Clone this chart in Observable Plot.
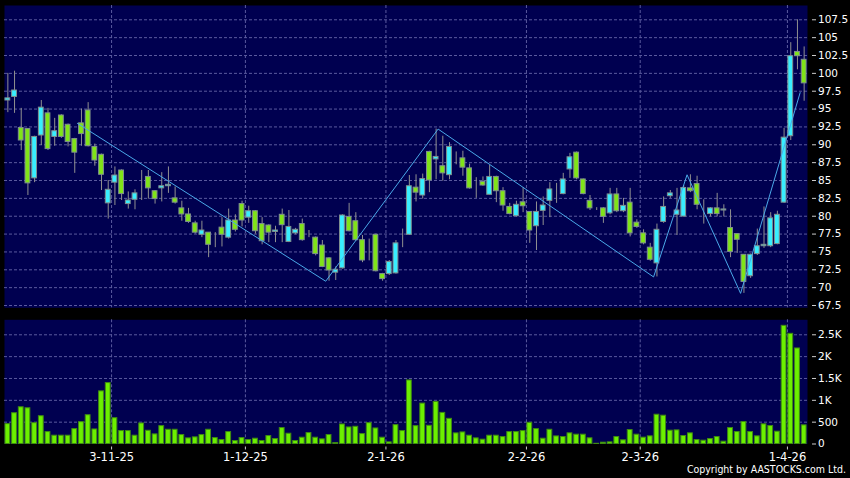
<!DOCTYPE html>
<html><head><meta charset="utf-8">
<script src="https://cdn.jsdelivr.net/npm/d3@7"></script>
<script src="https://cdn.jsdelivr.net/npm/@observablehq/plot@0.6"></script>
<style>
html,body{margin:0;padding:0;background:#000;}
#wrap{position:relative;width:850px;height:478px;background:#000;overflow:hidden;font-family:"DejaVu Sans",sans-serif;}
#price{position:absolute;left:0;top:0;}
#vol{position:absolute;left:0;top:310px;}
#copy{position:absolute;right:4px;top:463px;color:#fff;font-size:10.5px;font-family:"DejaVu Sans Condensed","DejaVu Sans",sans-serif;font-stretch:condensed;white-space:nowrap;}
</style></head><body>
<div id="wrap"><div id="price"></div><div id="vol"></div><div id="copy">Copyright by AASTOCKS.com Ltd.</div></div>
<script>
// ---- data ----
const opens = [96.2,96.7,92.35,92.2,85.3,91.3,94.4,91.1,94.1,92.8,90.8,93.0,94.8,89.7,88.6,81.8,84.7,86.4,81.7,82.3,
83.6,85.5,83.5,83.9,84.2,82.5,81.1,80.25,79.0,77.4,77.7,77.7,78.4,77.0,79.4,81.7,79.8,80.7,78.9,78.7,
77.8,80.2,76.4,77.6,78.9,77.4,77.0,75.9,74.1,72.1,72.7,79.9,79.3,76.65,75.0,77.4,71.9,71.9,72.0,77.4,
77.4,84.0,82.9,89.0,87.95,87.0,85.75,87.8,88.1,86.7,84.7,84.8,83.0,85.5,83.5,81.3,80.0,81.95,80.6,78.6,
80.75,82.15,83.75,83.1,86.55,88.9,85.15,82.15,81.0,81.1,80.4,83.05,80.7,81.9,79.1,77.6,75.6,73.4,79.2,82.8,
80.2,79.95,83.9,84.5,80.2,80.3,81.1,80.8,78.35,77.5,74.6,71.6,74.7,75.8,75.8,76.1,81.9,91.2,103.0,101.9];
const highs = [100,100.3,95.1,92.3,91.2,96.2,95.1,93.7,94.2,92.9,90.9,95.0,95.9,90.1,88.7,85.0,86.9,86.5,83.4,83.7,
86.4,86.4,83.6,86.1,86.9,84.1,82.1,81.1,79.3,79.3,77.7,77.7,79.8,81.0,80.2,82.1,81.4,80.8,79.8,78.8,
78.6,81.0,80.8,78.3,79.6,78.0,77.1,76.6,74.2,72.9,80.2,81.8,80.5,77.3,76.8,77.5,72.0,73.8,76.6,78.2,
85.7,85.8,85.9,89.1,92.2,91.2,90.3,89.0,89.1,87.3,85.4,85.5,87.1,85.6,84.0,81.8,82.1,84.0,80.6,82.0,
82.7,84.7,84.6,86.0,88.8,89.0,85.2,82.9,81.2,81.2,83.9,83.9,82.5,83.9,79.5,78.1,76.2,78.9,82.7,83.6,
83.9,84.3,85.8,85.6,82.3,81.2,83.2,81.6,80.9,77.5,74.6,74.7,78.2,81.3,80.5,80.7,92.3,104.3,107.5,103.7];
const lows = [94.5,94.4,89.2,82.9,84.7,89.9,89.2,89.8,90.9,89.7,86.0,89.8,89.7,87.0,83.6,79.6,81.5,82.2,81.0,80.9,
82.2,82.4,81.7,82.0,83.2,81.7,79.3,79.0,77.5,77.0,74.2,75.6,75.7,76.8,77.8,78.5,79.0,77.5,76.0,76.3,
76.3,76.3,76.3,77.4,76.5,77.0,74.45,72.8,70.9,71.0,72.6,77.8,76.5,73.5,73.75,72.2,70.9,71.7,71.9,75.6,
77.3,82.0,82.4,83.3,85.1,84.9,85.1,87.2,85.6,83.8,82.5,84.2,83.0,81.9,80.7,80.2,79.9,80.5,76.2,75.2,
78.7,79.8,81.8,83.0,85.3,85.1,83.0,80.8,80.8,79.0,80.2,80.5,80.5,77.1,78.3,76.0,73.7,71.5,79.0,82.5,
77.3,79.9,83.3,80.9,78.9,79.9,79.9,79.9,74.2,74.8,69.2,71.3,74.5,75.5,75.6,76.0,81.8,90.6,100.5,96.1];
const closes = [96.5,97.6,90.6,84.6,91.1,95.2,89.4,91.9,91.1,90.4,88.9,91.5,89.8,87.8,85.8,83.7,85.7,83.1,82.2,83.2,
83.6,83.9,82.4,84.2,84.4,81.9,80.25,79.2,77.7,78.0,76.0,77.7,77.4,79.4,78.1,79.4,80.7,77.9,76.5,77.7,
78.0,78.75,78.5,78.1,76.65,77.4,74.7,72.9,72.4,72.5,80.1,77.9,76.65,73.8,75.0,72.3,71.2,73.6,76.2,77.4,
84.2,83.3,85.2,85.0,88.3,86.0,89.7,87.8,86.8,83.9,84.7,84.3,85.5,83.5,81.5,80.3,81.6,81.4,78.0,80.6,
81.5,83.75,83.75,85.15,88.25,85.3,83.1,81.1,81.0,79.9,83.05,80.7,81.45,77.6,78.5,76.2,73.9,78.1,81.3,83.2,
80.8,83.95,83.5,81.6,80.2,81.1,80.3,80.95,75.0,76.7,70.8,74.6,75.8,76.0,79.7,80.2,91.0,102.4,102.4,98.6];
const volumes = [455,705,841,818,477,636,273,190,190,190,341,500,659,333,1205,1395,591,296,296,190,
470,303,220,409,326,326,205,129,152,205,326,136,91,273,68,136,91,121,68,182,
114,365,235,68,144,250,144,106,205,23,447,379,394,227,477,356,144,38,432,296,
1455,409,925,417,963,712,576,243,265,190,129,99,190,190,159,273,273,296,485,341,
121,326,174,160,244,213,213,130,5,30,38,160,84,320,213,145,175,670,648,305,
312,183,244,91,76,114,160,53,366,274,503,274,175,450,411,282,2705,2522,2187,427];
// zigzag indicator vertices (bar position, price)
const zzIdx = [10.4, 47.5, 64.3, 96.5, 101.5, 109.5, 118.4];
const zzVal = [93.0, 70.9, 92.2, 71.5, 85.8, 69.2, 97.3];
// month starts (bar index of first bar of month) and their labels
const monthStart = [16, 36, 57, 78, 95, 117];
const monthLabels = ["3-11-25", "1-12-25", "2-1-26", "2-2-26", "2-3-26", "1-4-26"];
const priceTicks = [67.5,70,72.5,75,77.5,80,82.5,85,87.5,90,92.5,95,97.5,100,102.5,105,107.5];
const volTicks = [0, 500, 1000, 1500, 2000, 2500];
const volTickLabels = ["0", "500", "1K", "1.5K", "2K", "2.5K"];

// ---- build tables ----
const bars = opens.map((o, i) => ({i, o, h: highs[i], l: lows[i], c: closes[i], v: volumes[i],
  up: closes[i] >= o}));
const zz = zzIdx.map((x, k) => ({x, y: zzVal[k]}));
const bounds = monthStart.map(m => m - 0.5);
const labelOf = new Map(bounds.map((b, k) => [b, monthLabels[k]]));
const volLabelOf = new Map(volTicks.map((t, k) => [t, volTickLabels[k]]));

const NAVY = "#000050", GRID = "#5a5a9e", WICK = "#909090", EDGE = "#7f8f8f";
const UPC = "#38eeff", DNC = "#80e418";
const half = 0.36;
const xScale = {domain: [-0.5, bars.length - 0.5], insetRight: 4, axis: null, label: null};
const style = {background: "transparent", color: "white", fontFamily: "DejaVu Sans, sans-serif", overflow: "visible"};

const price = Plot.plot({
  width: 850, height: 310,
  marginLeft: 4, marginRight: 39, marginTop: 5, marginBottom: 2.7,
  style,
  x: xScale,
  y: {domain: [67.18, 109.5], label: null, axis: null},
  marks: [
    Plot.frame({fill: NAVY, stroke: null, insetRight: 4}),
    Plot.gridY(priceTicks, {stroke: GRID, strokeOpacity: 1, strokeDasharray: "3,2", insetRight: 4}),
    Plot.gridX(bounds, {stroke: GRID, strokeOpacity: 1, strokeDasharray: "3,2"}),
    Plot.ruleX(bars, {x: "i", y1: "l", y2: "h", stroke: WICK, strokeWidth: 1}),
    Plot.rect(bars, {x1: d => d.i - half, x2: d => d.i + half,
      y1: d => Math.min(d.o, d.c), y2: d => Math.max(d.o, d.c),
      fill: d => d.up ? UPC : DNC, stroke: EDGE, strokeWidth: 1}),
    Plot.line(zz, {x: "x", y: "y", stroke: "#4aa8e8", strokeWidth: 1}),
    Plot.axisY(priceTicks, {anchor: "right", tickSize: 4, tickPadding: 2.5, stroke: "#cccccc",
      fill: "#ffffff", fontSize: 10.5, tickFormat: d => String(d), label: null})
  ]
});
document.getElementById("price").appendChild(price);

const vol = Plot.plot({
  width: 850, height: 168,
  marginLeft: 4, marginRight: 39, marginTop: 9.3, marginBottom: 34.5,
  style,
  x: xScale,
  y: {domain: [0, 2843], label: null, axis: null},
  marks: [
    Plot.frame({fill: NAVY, stroke: null, insetRight: 4}),
    Plot.gridY(volTicks.filter(t => t > 0), {stroke: GRID, strokeOpacity: 1, strokeDasharray: "3,2", insetRight: 4}),
    Plot.gridX(bounds, {stroke: GRID, strokeOpacity: 1, strokeDasharray: "3,2"}),
    Plot.rect(bars, {x1: d => d.i - half, x2: d => d.i + half, y1: 0, y2: "v",
      fill: "#6cf000", stroke: "#3f8a12", strokeWidth: 1}),
    Plot.axisY(volTicks, {anchor: "right", tickSize: 4, tickPadding: 2.5, stroke: "#cccccc",
      fill: "#ffffff", fontSize: 10.5, tickFormat: d => volLabelOf.get(d), label: null}),
    Plot.axisX(bounds, {anchor: "bottom", tickSize: 3, dy: 3, tickPadding: 3, stroke: "#cccccc",
      fill: "#ffffff", fontSize: 11.5, tickFormat: d => labelOf.get(d), label: null})
  ]
});
document.getElementById("vol").appendChild(vol);
</script>
</body></html>
